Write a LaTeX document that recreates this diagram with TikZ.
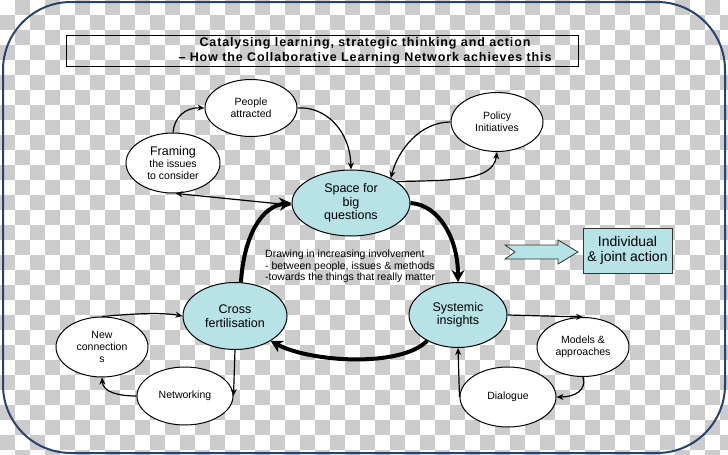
\documentclass[tikz,border=0pt]{standalone}
\usepackage{fontspec}
\setmainfont{Liberation Sans}
\newfontfamily\titlefont{Liberation Sans}[LetterSpace=7]
\usetikzlibrary{shapes.geometric,arrows.meta}
\definecolor{checkgray}{RGB}{204,204,204}
\definecolor{tealfill}{RGB}{183,226,230}
\definecolor{framecol}{RGB}{40,66,112}
\begin{document}
\begin{tikzpicture}[x=1pt,y=-1pt,
  bubble/.style={ellipse,draw=black,line width=1pt,fill=white,inner sep=0pt,align=center,font=\fontsize{10.5}{12}\selectfont},
  bigbubble/.style={bubble,fill=tealfill,font=\fontsize{12.5}{13.5}\selectfont},
  conn/.style={line width=1.2pt,-{Stealth[length=7pt,width=6pt]}},
  connboth/.style={line width=1.2pt,{Stealth[length=7pt,width=6pt]}-{Stealth[length=7pt,width=6pt]}},
  bigconn/.style={line width=4pt,-{Stealth[length=12pt,width=13pt]}},
]
\useasboundingbox (0,0) rectangle (728,455);
\begin{scope}
\clip (0,0) rectangle (728,455);
\fill[white] (0,0) rectangle (728,455);
\foreach \j in {0,...,30}{\foreach \i in {0,...,48}{%
  \pgfmathtruncatemacro\k{mod(\i+\j,2)}%
  \ifnum\k=1 \fill[checkgray] (\i*15,\j*15) rectangle +(15,15);\fi}}
\end{scope}

% outer frame
\draw[framecol, line width=2pt, rounded corners=68pt] (3,2) rectangle (725,453);

% title
\node[draw=black, line width=1pt, minimum width=512pt, minimum height=31pt, inner sep=0pt] (titlebox) at (322,50.5) {};
\node[font=\titlefont\bfseries\fontsize{12.5}{15}\selectfont, align=center, inner sep=0pt] (title) at (365,51)
  {Catalysing learning, strategic thinking and action\\– How the Collaborative Learning Network achieves this};

% nodes
\node[bubble, minimum width=92pt, minimum height=57pt] (people) at (251,108) {People\\attracted};
\node[bubble, minimum width=94pt, minimum height=60pt] (framing) at (173,163) {{\fontsize{12.5}{13}\selectfont Framing}\\the issues\\to consider};
\node[bubble, minimum width=92pt, minimum height=59pt] (policy) at (497,122) {Policy\\Initiatives};
\node[bigbubble, minimum width=118pt, minimum height=66pt] (space) at (351,203) {Space for\\big\\questions};
\node[bigbubble, minimum width=104pt, minimum height=67pt] (cross) at (235,316) {Cross\\fertilisation};
\node[bigbubble, minimum width=98pt, minimum height=65pt] (sys) at (458,315) {Systemic\\insights};
\node[bubble, minimum width=92pt, minimum height=60pt] (newconn) at (102,347) {New\\connection\\s};
\node[bubble, minimum width=96pt, minimum height=58pt] (netw) at (185,396) {Networking};
\node[bubble, minimum width=92pt, minimum height=59pt] (models) at (583,347) {Models \&\\approaches};
\node[bubble, minimum width=96pt, minimum height=60pt] (dial) at (508,397) {Dialogue};

\node[draw=black!80, line width=0.8pt, fill=tealfill, minimum width=89pt, minimum height=45pt, align=center,
  font=\fontsize{14}{15.5}\selectfont, inner sep=0pt] (action) at (627.5,250.5) {Individual\\\& joint action};
\draw[fill=tealfill, draw=black!80, line width=0.8pt] (505,245) -- (558,245) -- (558,240) -- (578,252) -- (558,264) -- (558,259) -- (505,259) -- (515,252) -- cycle;

\node[anchor=north west, align=left, font=\fontsize{10.5}{11.5}\selectfont, inner sep=0pt] (drawtext) at (265,250)
  {Drawing in increasing involvement\\- between people, issues \& methods\\-towards the things that really matter};

% thick cycle
\draw[bigconn] (cross.80) .. controls (244,235) and (262,206) .. (space.west);
\draw[bigconn] (space.east) .. controls (440,205) and (458,240) .. (sys.north);
\draw[bigconn] (sys.220) .. controls (400,368) and (310,362) .. (cross.-35);

% thin connectors
\draw[conn] (framing.north) .. controls (174,118) and (185,107) .. (people.west);
\draw[conn] (people.east) .. controls (325,106) and (350,130) .. (space.north);
\draw[connboth] (framing.-85) -- (space.182);
\draw[conn] (policy.west) .. controls (420,122) and (398,150) .. (space.32);
\draw[conn] (space.25) .. controls (450,180) and (493,182) .. (policy.south);
\draw[conn] (cross.south) -- (netw.east);
\draw[conn] (netw.west) .. controls (118,396) and (103,392) .. (newconn.south);
\draw[conn] (newconn.north) .. controls (130,314) and (160,312) .. (cross.west);
\draw[conn] (sys.east) -- (models.north);
\draw[conn] (models.south) .. controls (587,390) and (575,397) .. (dial.east);
\draw[conn] (dial.west) -- (sys.south);
\end{tikzpicture}
\end{document}
